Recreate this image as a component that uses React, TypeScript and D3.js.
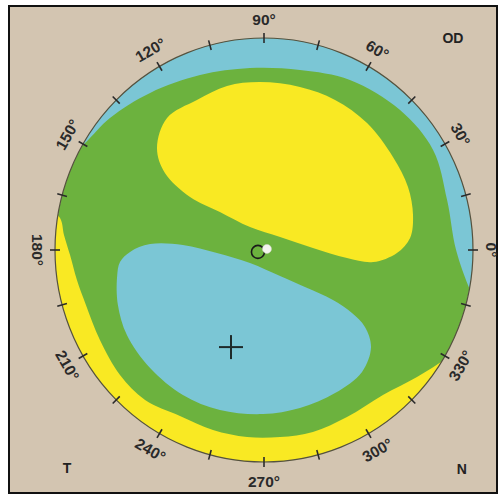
import React from "react";
import * as d3 from "d3";

// ---- data (normalized units, radius = 1) ----
const tickAngles = [0, 15, 30, 45, 60, 75, 90, 105, 120, 135, 150, 165, 180, 195, 210, 225, 240, 255, 270, 285, 300, 315, 330, 345];
const labelAngles = [0, 30, 60, 90, 120, 150, 180, 210, 240, 270, 300, 330];
const cornerLabels = [
  { text: "OD", u: 0.904, v: 1.0 },
  { text: "T", u: -0.943, v: -1.026 },
  { text: "N", u: 0.947, v: -1.031 },
];

// upper blue band: inner boundary, from temporal-upper edge to nasal edge
const topBandEdge: [number, number][] = [
  [-0.976, 0.401], [-0.856, 0.505], [-0.737, 0.623], [-0.545, 0.741], [-0.306, 0.825],
  [-0.067, 0.858], [0.172, 0.849], [0.411, 0.802], [0.651, 0.66], [0.809, 0.472],
  [0.876, 0.236], [0.919, 0.0], [0.986, -0.189], [1.033, -0.283],
];
const topBandOuter = [-15, 45, 90, 135, 160];

// upper yellow lobe
const topLobe: [number, number][] = [
  [-0.512, 0.481], [-0.464, 0.623], [-0.321, 0.708], [-0.177, 0.774], [-0.019, 0.792],
  [0.172, 0.769], [0.34, 0.708], [0.493, 0.599], [0.617, 0.439], [0.689, 0.297],
  [0.713, 0.165], [0.699, 0.057], [0.636, -0.014], [0.522, -0.057], [0.397, -0.038],
  [0.234, 0.009], [0.077, 0.061], [-0.067, 0.108], [-0.211, 0.179], [-0.354, 0.25],
  [-0.474, 0.363],
];

// lower blue lobe
const bottomLobe: [number, number][] = [
  [-0.703, -0.127], [-0.689, -0.057], [-0.641, -0.009], [-0.545, 0.028], [-0.388, 0.024],
  [-0.225, -0.014], [-0.067, -0.061], [0.077, -0.123], [0.196, -0.175], [0.33, -0.236],
  [0.421, -0.297], [0.483, -0.363], [0.512, -0.458], [0.469, -0.575], [0.34, -0.675],
  [0.172, -0.745], [-0.005, -0.774], [-0.211, -0.755], [-0.388, -0.684], [-0.545, -0.557],
  [-0.656, -0.401], [-0.699, -0.259],
];

// lower yellow band: inner boundary
const bottomBandEdge: [number, number][] = [
  [-1.048, 0.212], [-0.976, 0.151], [-0.957, 0.071], [-0.928, -0.024], [-0.895, -0.142],
  [-0.852, -0.259], [-0.785, -0.425], [-0.689, -0.59], [-0.569, -0.708], [-0.402, -0.783],
  [-0.244, -0.849], [-0.081, -0.882], [0.077, -0.882], [0.234, -0.858], [0.397, -0.788],
  [0.569, -0.684], [0.732, -0.599], [0.876, -0.509], [0.962, -0.448],
];
const bottomBandOuter = [-25, -60, -90, -135, -180, -192];

const crossPoint: [number, number] = [-0.158, -0.458];
const pupilPoint: [number, number] = [-0.029, -0.009];
const reflexPoint: [number, number] = [0.014, 0.005];

// ---- colours ----
const TAN = "#d3c5b1";
const BLUE = "#7bc6d5";
const GREEN = "#6cb23e";
const YELLOW = "#f9e923";

const W = 501;
const H = 498;
const cx = 264;
const cy = 250;
const rx = 209;
const ry = 212;

export default function App() {
  const x = d3.scaleLinear().domain([-1, 1]).range([cx - rx, cx + rx]);
  const y = d3.scaleLinear().domain([-1, 1]).range([cy + ry, cy - ry]);
  const rad = (deg: number) => (deg * Math.PI) / 180;
  const polar = (deg: number, r: number): [number, number] => [r * Math.cos(rad(deg)), r * Math.sin(rad(deg))];
  const px = (p: [number, number]) => [x(p[0]), y(p[1])] as [number, number];

  const open = d3.line<[number, number]>().x((d) => x(d[0])).y((d) => y(d[1])).curve(d3.curveCatmullRom.alpha(0.5));
  const closed = d3.line<[number, number]>().x((d) => x(d[0])).y((d) => y(d[1])).curve(d3.curveCatmullRomClosed.alpha(0.5));

  const bandPath = (edge: [number, number][], outer: number[]) => {
    const pts = outer.map((a) => px(polar(a, 1.5)));
    return open(edge) + pts.map((p) => `L${p[0]},${p[1]}`).join("") + "Z";
  };

  const tickLen = 5;
  const fontFam = "Liberation Sans, Arial, sans-serif";

  return (
    <svg width={W} height={H} style={{ position: "absolute", left: 0, top: 0, display: "block", background: "#fff" }}>
      <defs>
        <clipPath id="eye">
          <ellipse cx={x(0)} cy={y(0)} rx={x(1) - x(0)} ry={y(0) - y(1)} />
        </clipPath>
      </defs>
      <rect x={9} y={6} width={488} height={487} fill={TAN} stroke="#111" strokeWidth={2} />
      <g clipPath="url(#eye)">
        <ellipse cx={x(0)} cy={y(0)} rx={x(1) - x(0)} ry={y(0) - y(1)} fill={GREEN} />
        <path d={bandPath(topBandEdge, topBandOuter)} fill={BLUE} />
        <path d={closed(topLobe) || ""} fill={YELLOW} />
        <path d={closed(bottomLobe) || ""} fill={BLUE} />
        <path d={bandPath(bottomBandEdge, bottomBandOuter)} fill={YELLOW} />
      </g>
      <ellipse cx={x(0)} cy={y(0)} rx={x(1) - x(0)} ry={y(0) - y(1)} fill="none" stroke="#55523f" strokeWidth={1.2} />
      {tickAngles.map((a) => {
        const c = Math.cos(rad(a));
        const s = Math.sin(rad(a));
        const ex = x(c);
        const ey = y(s);
        return (
          <line key={a} x1={ex - c * tickLen} y1={ey + s * tickLen} x2={ex + c * tickLen} y2={ey - s * tickLen} stroke="#2b2b2b" strokeWidth={1.6} />
        );
      })}
      {labelAngles.map((a) => {
        const c = Math.cos(rad(a));
        const s = Math.sin(rad(a));
        const lx = x(0) + c * (rx + 18);
        const ly = y(0) - s * (ry + 19);
        const rot = a < 180 ? 90 - a : 270 - a;
        return (
          <text key={a} x={lx} y={ly} transform={`rotate(${rot},${lx},${ly})`} textAnchor="middle" dominantBaseline="central"
            fontFamily={fontFam} fontSize={15.5} fontWeight="bold" fill="#2a2a2a">
            {`${a}°`}
          </text>
        );
      })}
      {cornerLabels.map((l) => (
        <text key={l.text} x={x(l.u)} y={y(l.v)} textAnchor="middle" dominantBaseline="central" fontFamily={fontFam} fontSize={14} fontWeight="bold" fill="#222">
          {l.text}
        </text>
      ))}
      {(() => {
        const [cxp, cyp] = px(crossPoint);
        return (
          <g stroke="#1e2a2a" strokeWidth={2}>
            <line x1={cxp - 12} y1={cyp} x2={cxp + 12} y2={cyp} />
            <line x1={cxp} y1={cyp - 12} x2={cxp} y2={cyp + 12} />
          </g>
        );
      })()}
      {(() => {
        const [ppx, ppy] = px(pupilPoint);
        const [rpx, rpy] = px(reflexPoint);
        return (
          <g>
            <circle cx={ppx} cy={ppy} r={6.5} fill="none" stroke="#1a1a1a" strokeWidth={1.6} />
            <circle cx={rpx} cy={rpy} r={4.5} fill="#f4f4ee" stroke="#d8d8d0" strokeWidth={0.5} />
          </g>
        );
      })()}
    </svg>
  );
}
